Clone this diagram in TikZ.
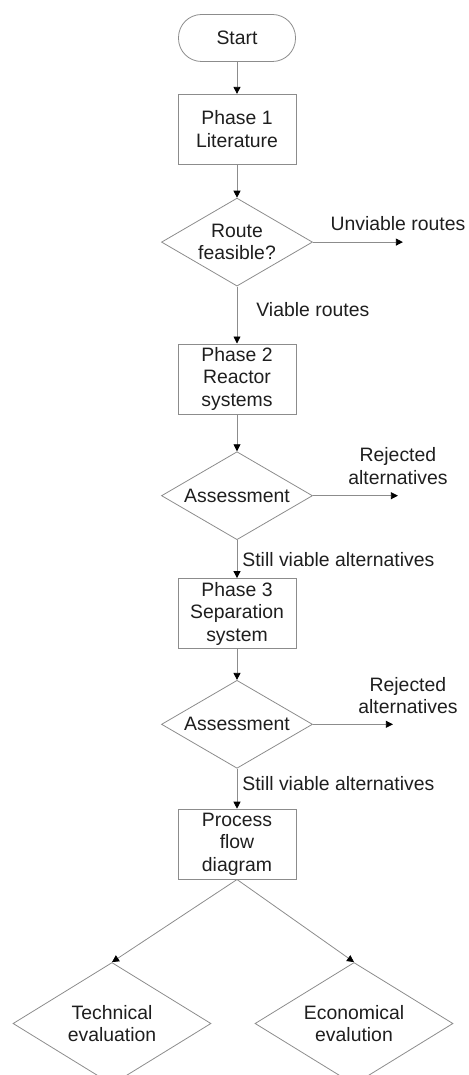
\documentclass[tikz,border=0pt]{standalone}
\usepackage{fontspec}
\setmainfont{Liberation Sans}
\usepackage{tikz}
\usetikzlibrary{arrows.meta, positioning, shapes.geometric, calc}
\definecolor{fcline}{HTML}{8C8C8C}
\definecolor{fctext}{HTML}{1E1E1E}
\newcommand\flowfont{\fontsize{19.4}{22.5}\selectfont}

\begin{document}
\begin{tikzpicture}[
  x=1pt, y=1pt,
  terminal/.style={rectangle, draw=fcline, line width=0.8pt, rounded corners=23pt,
    minimum width=117pt, minimum height=47pt, text=fctext, font=\flowfont},
  phase/.style={rectangle, draw=fcline, line width=0.8pt, minimum width=118pt,
    minimum height=70pt, inner sep=1pt, align=center, text=fctext, font=\flowfont},
  decision/.style={diamond, aspect=1.72, draw=fcline, line width=0.8pt, minimum width=151pt,
    minimum height=88pt, inner sep=0pt, align=center, text=fctext, font=\flowfont},
  evaluation/.style={diamond, aspect=1.62, draw=fcline, line width=0.8pt, minimum width=198pt,
    minimum height=122pt, inner sep=0pt, align=center, text=fctext, font=\flowfont},
  flow/.style={draw=fcline, line width=0.8pt,
    -{Triangle[length=7pt, width=7pt, color=black]}},
  note/.style={inner sep=0pt, align=center, text=fctext, font=\flowfont},
  node distance=32pt,
]
  \useasboundingbox (0,0) rectangle (468,-1075);
  \clip (0,0) rectangle (468,-1075);

  \node[terminal] (start) at (237,-38) {Start};
  \node[phase, below=32pt of start] (p1) {Phase 1\\Literature};
  \node[decision, below=33pt of p1] (d1) {Route\\feasible?};
  \node[phase, below=57pt of d1] (p2) {Phase 2\\Reactor\\systems};
  \node[decision, below=37pt of p2] (d2) {Assessment};
  \node[phase, below=38pt of d2] (p3) {Phase 3\\Separation\\system};
  \node[decision, below=31pt of p3] (d3) {Assessment};
  \node[phase, below=40pt of d3] (pfd) {Process\\flow\\diagram};
  \node[evaluation] (tech) at ($(pfd.south)+(-125,-144)$) {Technical\\evaluation};
  \node[evaluation] (econ) at ($(pfd.south)+(117,-144)$) {Economical\\evalution};

  % side exits
  \coordinate (out1) at ($(d1.east)+(90,0)$);
  \coordinate (out2) at ($(d2.east)+(85,0)$);
  \coordinate (out3) at ($(d3.east)+(80,0)$);

  \draw[flow] (start) -- (p1);
  \draw[flow] (p1) -- (d1);
  \draw[flow] (d1) -- node[note, right=19pt, pos=0.4] {Viable routes} (p2);
  \draw[flow] (d1.east) -- (out1) node[note, above=11pt, xshift=-5pt] {Unviable routes};
  \draw[flow] (p2) -- (d2);
  \draw[flow] (d2) -- node[note, right=5pt, pos=0.5] {Still viable alternatives} (p3);
  \draw[flow] (d2.east) -- (out2) node[note, above=11pt] {Rejected\\alternatives};
  \draw[flow] (p3) -- (d3);
  \draw[flow] (d3) -- node[note, right=5pt, pos=0.375] {Still viable alternatives} (pfd);
  \draw[flow] (d3.east) -- (out3) node[note, above=10pt, xshift=15pt] {Rejected\\alternatives};
  \draw[flow] (pfd.south) -- (tech.north);
  \draw[flow] (pfd.south) -- (econ.north);
\end{tikzpicture}
\end{document}
